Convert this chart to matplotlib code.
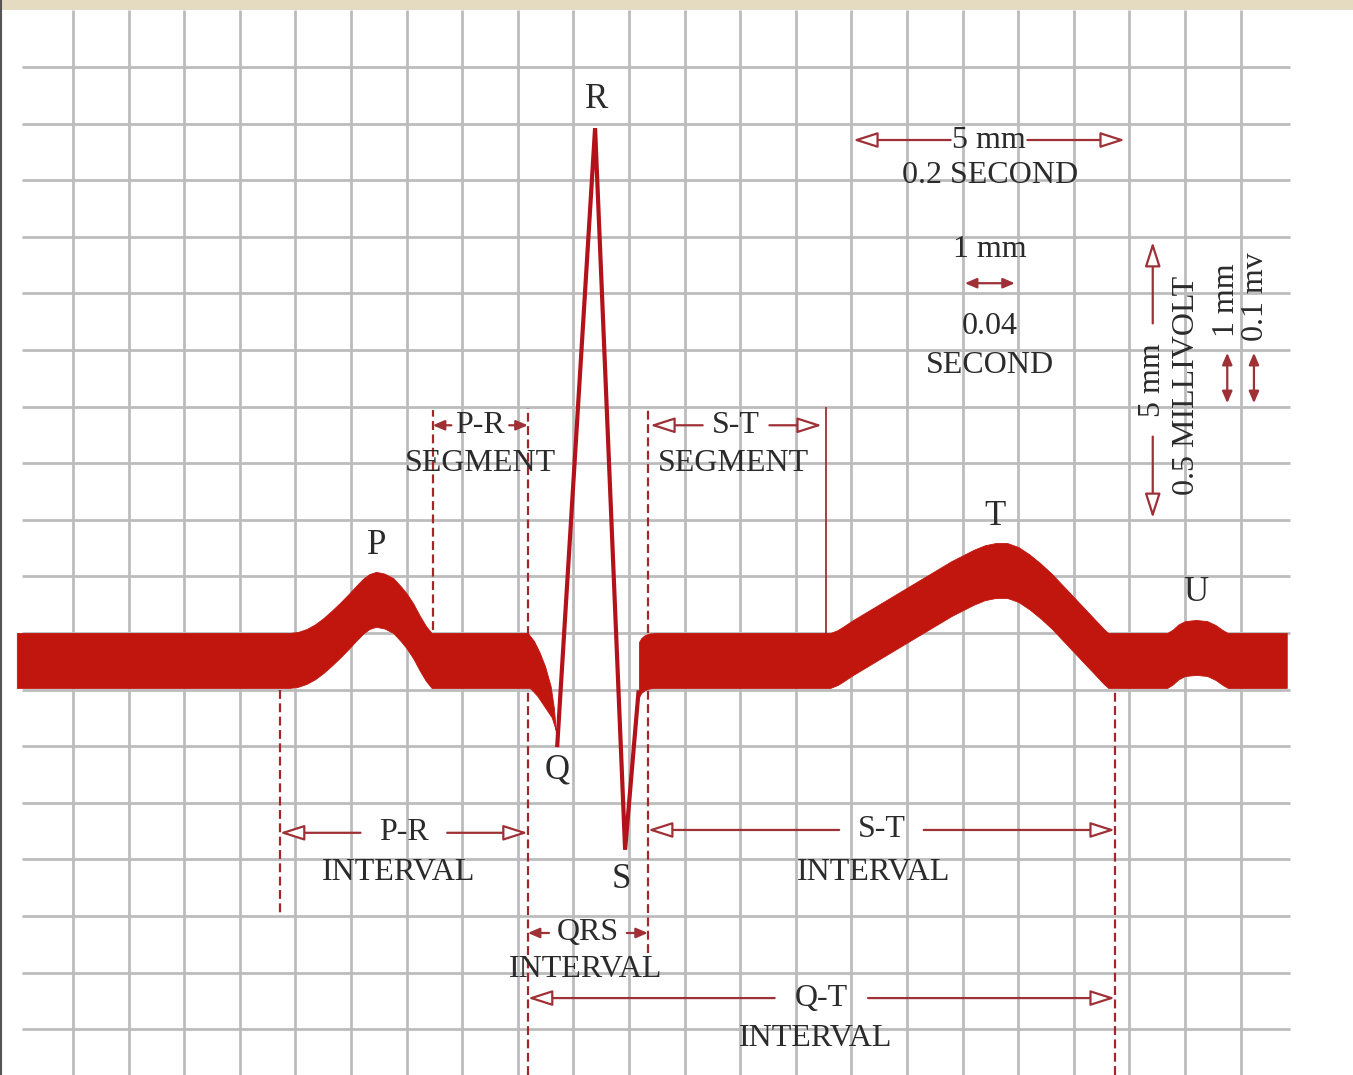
import numpy as np
import matplotlib
matplotlib.use('Agg')
import matplotlib.pyplot as plt

# ECG trace in grid squares (1 small box = 1 mm: 0.04 s across, 0.1 mV up)
# y values are the top edge of the thick trace
pr_x = [-1.01, 3.90, 4.05, 4.20, 4.35, 4.50, 4.65, 4.80, 4.95, 5.10, 5.22, 5.33, 5.45,
        5.60, 5.76, 5.90, 6.00, 6.12, 6.24, 6.35, 6.45, 8.18]
pr_top = [0, 0, 0.02, 0.07, 0.15, 0.26, 0.39, 0.53, 0.68, 0.84, 0.96, 1.04, 1.08,
          1.05, 0.97, 0.82, 0.70, 0.52, 0.30, 0.12, 0.0, 0]

# tapering Q dip (closed outline)
q_x = [8.18, 8.30, 8.40, 8.50, 8.60, 8.66, 8.71, 8.70, 8.62, 8.49, 8.36, 8.24, 8.18]
q_y = [0, -0.15, -0.35, -0.60, -0.95, -1.35, -1.98, -1.75, -1.50, -1.31, -1.12, -0.99, -0.97]

# thin QRS spike: Q -> R -> S -> back to baseline
qrs_x = [8.71, 9.39, 9.93, 10.17]
qrs_y = [-1.98, 8.92, -3.83, -1.05]

st_x = [10.18, 10.22, 10.28, 10.36, 10.47, 13.62, 13.75, 13.88, 14.00, 15.00, 15.80, 16.00,
        16.20, 16.40, 16.60, 16.80, 17.00, 17.20, 17.40, 17.60, 18.55, 18.62,
        19.68, 19.78, 19.88, 20.00, 20.20, 20.40, 20.55, 20.68, 20.77, 21.83]
st_top = [-0.16, -0.09, -0.04, -0.01, 0, 0, 0.05, 0.13, 0.21, 0.80, 1.27, 1.37,
          1.47, 1.55, 1.59, 1.59, 1.52, 1.39, 1.23, 1.05, 0.06, 0,
          0, 0.06, 0.15, 0.21, 0.23, 0.21, 0.14, 0.05, 0, 0]

wave_labels = ['P', 'Q', 'R', 'S', 'T', 'U']
grid_x = np.arange(0, 22)
grid_y = np.arange(-7, 11)

thick = 0.97
red = '#c1160e'
spike_c = '#b3121a'
line_c = '#9e3036'
dash_c = '#a3262b'
txt_c = '#2b2b2b'
grid_c = '#bcbcbc'
font = 'Liberation Serif'
fs = 23

fig = plt.figure(figsize=(13.53, 10.75), dpi=100)
ax = fig.add_axes([0, 0, 1, 1])
ax.set_xlim(-73 / 55.6, (1353 - 73) / 55.6)
ax.set_ylim((633 - 1075) / 56.6, 633 / 56.6)
ax.axis('off')

# graph paper
ax.vlines(grid_x, -7.81, 11.0, color=grid_c, lw=2, zorder=1)
ax.hlines(grid_y, -0.92, 21.89, color=grid_c, lw=2, zorder=1)
ax.axhspan(11.0, 11.2, color='#e4dbc0', lw=0, zorder=5)
ax.axvline(-1.29, color='#555555', lw=1.5, zorder=5)

# the trace
pr_top = np.array(pr_top)
st_top = np.array(st_top)
ax.fill_between(pr_x, pr_top, pr_top - thick, color=red, lw=0.6, ec=red, zorder=4)
ax.fill(q_x, q_y, color=red, lw=0.6, ec=red, zorder=4)
ax.plot(qrs_x, qrs_y, color=spike_c, lw=3, solid_joinstyle='miter', zorder=4)
ax.fill_between(st_x, st_top, st_top - thick, color=red, lw=0.6, ec=red, zorder=4)

# dashed guide lines and the S-T segment marker
dashed = [(3.72, -1.0, -4.98), (6.47, 0.05, 3.94), (8.18, -7.81, 3.98),
          (10.34, -5.65, 3.98), (18.74, -7.81, -1.0)]
for x, y0, y1 in dashed:
    ax.plot([x, x], [y0, y1], color=dash_c, lw=1.6, ls=(0, (4, 2)), zorder=3)
ax.plot([13.54, 13.54], [0, 3.98], color=line_c, lw=1.3, zorder=3)

big = dict(arrowstyle='-|>,head_length=0.75,head_width=0.24', mutation_scale=20,
           fc='white', ec=line_c, lw=1.6, shrinkA=0, shrinkB=0)
small = dict(arrowstyle='-|>,head_length=0.7,head_width=0.3', mutation_scale=10,
             fc=line_c, ec=line_c, lw=1.6, shrinkA=0, shrinkB=0)
small2 = dict(small, arrowstyle='<|-|>,head_length=0.7,head_width=0.3')


def label(x, y, s, rot=0, size=fs):
    ax.text(x, y, s, ha='center', va='center', rotation=rot, fontsize=size,
            family=font, color=txt_c, zorder=6)


def h_arrow(x0, x1, y, gap, text, props):
    xc = (x0 + x1) / 2
    ax.annotate('', xy=(x0, y), xytext=(xc - gap, y), arrowprops=props, zorder=3)
    ax.annotate('', xy=(x1, y), xytext=(xc + gap, y), arrowprops=props, zorder=3)
    label(xc, y, text)


def v_arrow(x, y0, y1, gap, text, props):
    yc = (y0 + y1) / 2
    ax.annotate('', xy=(x, y0), xytext=(x, yc - gap), arrowprops=props, zorder=3)
    ax.annotate('', xy=(x, y1), xytext=(x, yc + gap), arrowprops=props, zorder=3)
    label(x, yc, text, rot=90)


# segments and intervals
h_arrow(6.47, 8.18, 3.67, 0.52, 'P-R', small)
label(7.32, 3.0, 'SEGMENT')
h_arrow(10.38, 13.47, 3.67, 0.60, 'S-T', big)
label(11.87, 3.0, 'SEGMENT')

h_arrow(3.72, 8.18, -3.53, 0.78, 'P-R', big)
label(5.85, -4.24, 'INTERVAL')
h_arrow(10.34, 18.74, -3.48, 0.76, 'S-T', big)
label(14.39, -4.24, 'INTERVAL')
h_arrow(8.18, 10.34, -5.30, 0.70, 'QRS', small)
label(9.21, -5.95, 'INTERVAL')
h_arrow(8.18, 18.74, -6.45, 0.84, 'Q-T', big)
label(13.35, -7.16, 'INTERVAL')

# scale key
h_arrow(14.03, 18.92, 8.71, 0.69, '5 mm', big)
label(16.49, 8.09, '0.2 SECOND')
label(16.49, 6.77, '1 mm')
ax.annotate('', xy=(16.94, 6.18), xytext=(16.04, 6.18), arrowprops=small2, zorder=3)
label(16.49, 5.41, '0.04')
label(16.49, 4.73, 'SECOND')

v_arrow(19.42, 2.03, 6.91, 1.0, '5 mm', big)
label(20.03, 4.38, '0.5 MILLIVOLT', rot=90)
label(20.75, 5.88, '1 mm', rot=90)
label(21.26, 5.94, '0.1 mv', rot=90)
for x in (20.76, 21.24):
    ax.annotate('', xy=(x, 4.06), xytext=(x, 4.95), arrowprops=small2, zorder=3)

# wave names
wave_pos = [(5.47, 1.55), (8.71, -2.42), (9.42, 9.42), (9.87, -4.36), (16.58, 2.05), (20.2, 0.71)]
for name, (x, y) in zip(wave_labels, wave_pos):
    label(x, y, name, size=25)

fig.savefig('out.png', dpi=100)
